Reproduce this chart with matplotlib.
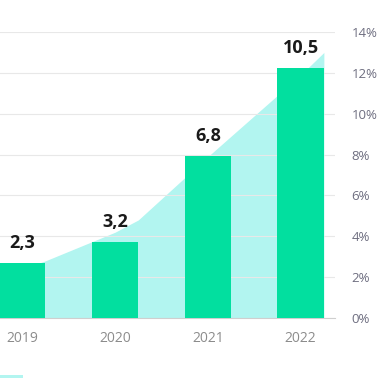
import matplotlib
matplotlib.use('Agg')
import matplotlib.pyplot as plt
from matplotlib.patches import Rectangle

years = ['2019', '2020', '2021', '2022']
values = [2.3, 3.2, 6.8, 10.5]
labels = ['2,3', '3,2', '6,8', '10,5']

# light area on the percent axis (x in category units)
area_x = [-0.25, 0.25, 1.0, 1.25, 2.0, 3.0, 3.25]
area_pct = [2.0, 2.8, 4.2, 4.8, 7.9, 11.9, 13.0]

pct_ticks = [0, 2, 4, 6, 8, 10, 12, 14]
pct_labels = ['0%', '2%', '4%', '6%', '8%', '10%', '12%', '14%']

plt.rcParams['font.family'] = ['Open Sans', 'DejaVu Sans']

fig = plt.figure(figsize=(3.78, 3.78), dpi=100)
ax = fig.add_axes([0.0, 0.1587, 335 / 378, 0.7566])
ax2 = ax.twinx()

ax.fill_between(area_x, area_pct, 0, color='#b2f5f0', linewidth=0, zorder=1)
ax.set_ylim(0, 14)
ax.set_xlim(-0.24, 3.37)
ax.set_yticks(pct_ticks)
ax.set_yticklabels(pct_labels)
ax.yaxis.tick_right()   # twinx moved them left, put back
ax.tick_params(axis='y', length=0, pad=12, labelsize=9.5, labelcolor='#6e6e80')
ax.set_xticks(range(len(years)))
ax.set_xticklabels(years)
ax.tick_params(axis='x', length=0, pad=9, labelsize=10, labelcolor='#8c8c8c')
ax.set_axisbelow(False)
ax.grid(axis='y', color='#e8e8e8', linewidth=0.8)
for s in ['top', 'left', 'right']:
    ax.spines[s].set_visible(False)
ax.spines['bottom'].set_color('#cfcfcf')

ax2.bar(range(len(years)), values, width=0.5, color='#02df9f', zorder=3)
ax2.set_ylim(0, 12)
ax2.set_yticks([])
for s in ax2.spines.values():
    s.set_visible(False)
for i, v in enumerate(values):
    ax2.annotate(labels[i], (i, v), xytext=(0, 8), textcoords='offset points',
                 ha='center', va='bottom', fontsize=13, fontweight='bold',
                 color='#1a1a1a')

# cropped legend swatch at the bottom
fig.patches.append(Rectangle((0, 0), 23 / 378, 3 / 378, transform=fig.transFigure,
                             color='#b2f5f0', linewidth=0))

plt.savefig('out.png', dpi=100)
